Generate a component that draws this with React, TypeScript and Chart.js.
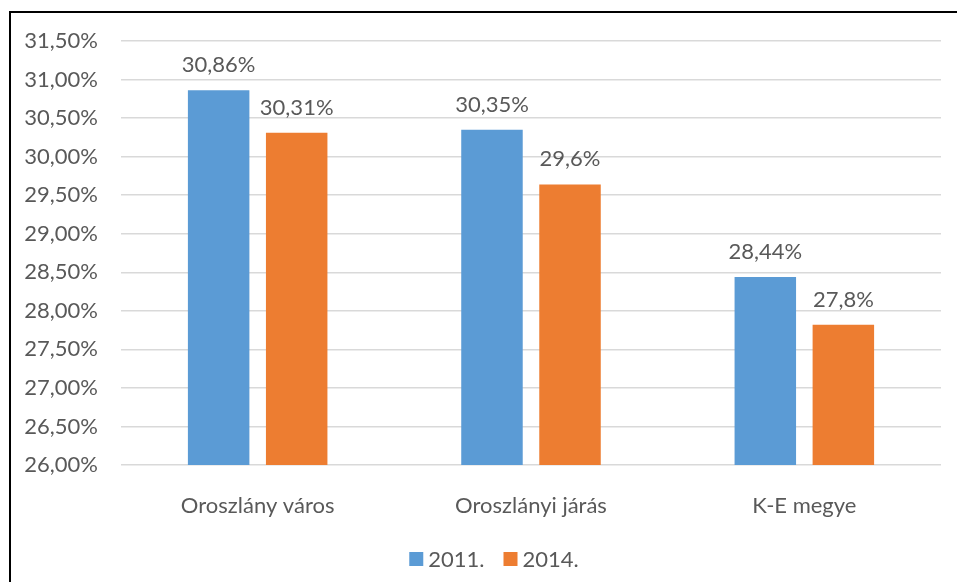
import React, { useEffect, useRef } from "react";
import { Chart, registerables } from "chart.js";

Chart.register(...registerables);

const categories = ["Oroszlány város", "Oroszlányi járás", "K-E megye"];
const seriesNames = ["2011.", "2014."];
const values2011 = [30.86, 30.35, 28.44];
const values2014 = [30.31, 29.64, 27.82];
const labels2011 = ["30,86%", "30,35%", "28,44%"];
const labels2014 = ["30,31%", "29,6%", "27,8%"];
const yMin = 26;
const yMax = 31.5;
const yStep = 0.5;

const COLORS = ["#5B9BD5", "#ED7D31"];
const FONT_FAMILY = "Lato, 'Open Sans', sans-serif";
const FONT_SIZE = 22;
const TEXT_COLOR = "#595959";
const GRID_COLOR = "#D9D9D9";

const dataLabelPlugin = {
  id: "dataLabelPlugin",
  afterDatasetsDraw(chart: any) {
    const ctx = chart.ctx;
    ctx.save();
    ctx.font = `${FONT_SIZE}px ${FONT_FAMILY}`;
    ctx.fillStyle = TEXT_COLOR;
    ctx.textAlign = "center";
    ctx.textBaseline = "middle";
    chart.data.datasets.forEach((ds: any, di: number) => {
      const meta = chart.getDatasetMeta(di);
      meta.data.forEach((el: any, i: number) => {
        const txt = ds.valueLabels[i];
        ctx.fillText(txt, el.x, el.y - 25);
      });
    });
    ctx.restore();
  },
};

const legendPlugin = {
  id: "customLegend",
  afterDraw(chart: any) {
    const ctx = chart.ctx;
    ctx.save();
    ctx.font = `${FONT_SIZE}px ${FONT_FAMILY}`;
    ctx.textBaseline = "middle";
    ctx.textAlign = "left";
    const box = 14;
    const gapText = 5;
    const gapItem = 19;
    const items = chart.data.datasets.map((ds: any) => ({
      label: ds.label,
      color: ds.backgroundColor,
      w: ctx.measureText(ds.label).width,
    }));
    let total = 0;
    items.forEach((it: any, i: number) => {
      total += box + gapText + it.w + (i < items.length - 1 ? gapItem : 0);
    });
    const cx = 494;
    const cy = 559;
    let x = cx - total / 2;
    items.forEach((it: any) => {
      ctx.fillStyle = it.color;
      ctx.fillRect(x, cy - box / 2, box, box);
      x += box + gapText;
      ctx.fillStyle = TEXT_COLOR;
      ctx.fillText(it.label, x, cy + 1);
      x += it.w + gapItem;
    });
    ctx.restore();
  },
};

export default function App() {
  const canvasRef = useRef<HTMLCanvasElement | null>(null);

  useEffect(() => {
    const canvas = canvasRef.current;
    if (!canvas) return;
    const chart = new Chart(canvas, {
      type: "bar",
      data: {
        labels: categories,
        datasets: [
          {
            label: seriesNames[0],
            data: values2011,
            backgroundColor: COLORS[0],
            valueLabels: labels2011,
            categoryPercentage: 0.571,
            barPercentage: 0.788,
          } as any,
          {
            label: seriesNames[1],
            data: values2014,
            backgroundColor: COLORS[1],
            valueLabels: labels2014,
            categoryPercentage: 0.571,
            barPercentage: 0.788,
          } as any,
        ],
      },
      options: {
        responsive: false,
        animation: false,
        devicePixelRatio: 1,
        layout: { padding: { top: 41, right: 16, left: 0, bottom: 0 } },
        plugins: {
          legend: { display: false },
          tooltip: { enabled: false },
        },
        scales: {
          x: {
            grid: { display: false },
            border: { display: false },
            ticks: {
              color: TEXT_COLOR,
              font: { family: FONT_FAMILY, size: FONT_SIZE },
              padding: 20,
              maxRotation: 0,
              autoSkip: false,
            },
            afterFit(scale: any) {
              scale.height = 117;
            },
          },
          y: {
            min: yMin,
            max: yMax,
            grid: { color: GRID_COLOR, lineWidth: 1.5, drawTicks: false },
            border: { display: false },
            ticks: {
              stepSize: yStep,
              color: TEXT_COLOR,
              font: { family: FONT_FAMILY, size: FONT_SIZE },
              padding: 23,
              callback: (v: any) => Number(v).toFixed(2).replace(".", ",") + "%",
            },
            afterFit(scale: any) {
              scale.width = 121;
            },
          },
        },
      },
      plugins: [dataLabelPlugin, legendPlugin],
    });
    return () => chart.destroy();
  }, []);

  return (
    <div
      style={{
        position: "fixed",
        left: 0,
        top: 0,
        width: 957,
        height: 582,
        background: "#fff",
        overflow: "hidden",
      }}
    >
      <div
        style={{
          position: "absolute",
          left: 9,
          top: 11,
          width: 1200,
          height: 800,
          borderLeft: "2px solid #000",
          borderTop: "2px solid #000",
        }}
      />
      <canvas
        ref={canvasRef}
        width={957}
        height={582}
        style={{ position: "absolute", left: 0, top: 0, width: 957, height: 582 }}
      />
    </div>
  );
}
